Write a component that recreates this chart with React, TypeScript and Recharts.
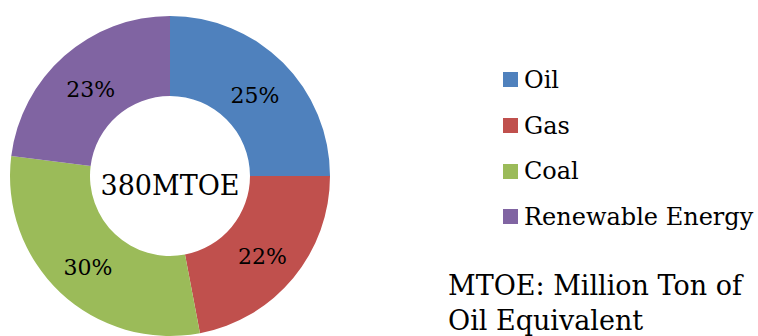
import { PieChart, Pie, Cell } from "recharts";

const sources = ["Oil", "Gas", "Coal", "Renewable Energy"];
const shares = [25, 22, 30, 23];
const colors = ["#4F81BD", "#C0504D", "#9BBB59", "#8064A2"];
const totalLabel = "380MTOE";
const footnote = ["MTOE: Million Ton of", "Oil Equivalent"];

const FONT = '"DejaVu Serif", serif';
const RAD = Math.PI / 180;

const data = sources.map((name, i) => ({ name, value: shares[i] }));

// percentage sits halfway through the ring
function renderShare(props: any) {
  const { cx, cy, midAngle, innerRadius, outerRadius, value } = props;
  const r = (innerRadius + outerRadius) / 2;
  const x = cx + r * Math.cos(-midAngle * RAD);
  const y = cy + r * Math.sin(-midAngle * RAD);
  return (
    <text
      x={x}
      y={y + 4}
      textAnchor="middle"
      dominantBaseline="central"
      fontFamily={FONT}
      fontSize={22}
      fill="#000"
    >
      {`${value}%`}
    </text>
  );
}

function SideLegend() {
  return (
    <div
      style={{
        position: "absolute",
        left: 503,
        top: 57,
        fontFamily: FONT,
        color: "#000",
      }}
    >
      {sources.map((name, i) => (
        <div
          key={name}
          style={{ display: "flex", alignItems: "center", height: 45.7, fontSize: 24 }}
        >
          <span
            style={{
              display: "inline-block",
              flex: "0 0 15px",
              width: 15,
              height: 15,
              background: colors[i],
              marginRight: 6,
            }}
          />
          <span>{name}</span>
        </div>
      ))}
      <div
        style={{
          marginTop: 28,
          marginLeft: -55,
          fontSize: 27,
          lineHeight: "35px",
          whiteSpace: "nowrap",
        }}
      >
        {footnote.map((line) => (
          <div key={line}>{line}</div>
        ))}
      </div>
    </div>
  );
}

export default function App() {
  return (
    <div
      style={{
        position: "absolute",
        left: 0,
        top: 0,
        width: 758,
        height: 336,
        overflow: "hidden",
        background: "#fff",
      }}
    >
      <PieChart width={758} height={336} margin={{ top: 0, right: 0, bottom: 0, left: 0 }}>
        <Pie
          data={data}
          dataKey="value"
          nameKey="name"
          cx={170}
          cy={176}
          innerRadius={80}
          outerRadius={160}
          startAngle={90}
          endAngle={-270}
          stroke="none"
          label={renderShare}
          labelLine={false}
          isAnimationActive={false}
        >
          {data.map((d, i) => (
            <Cell key={d.name} fill={colors[i]} />
          ))}
        </Pie>
        <text
          x={170}
          y={185}
          textAnchor="middle"
          dominantBaseline="central"
          fontFamily={FONT}
          fontSize={27}
          fill="#000"
        >
          {totalLabel}
        </text>
      </PieChart>
      <SideLegend />
    </div>
  );
}
